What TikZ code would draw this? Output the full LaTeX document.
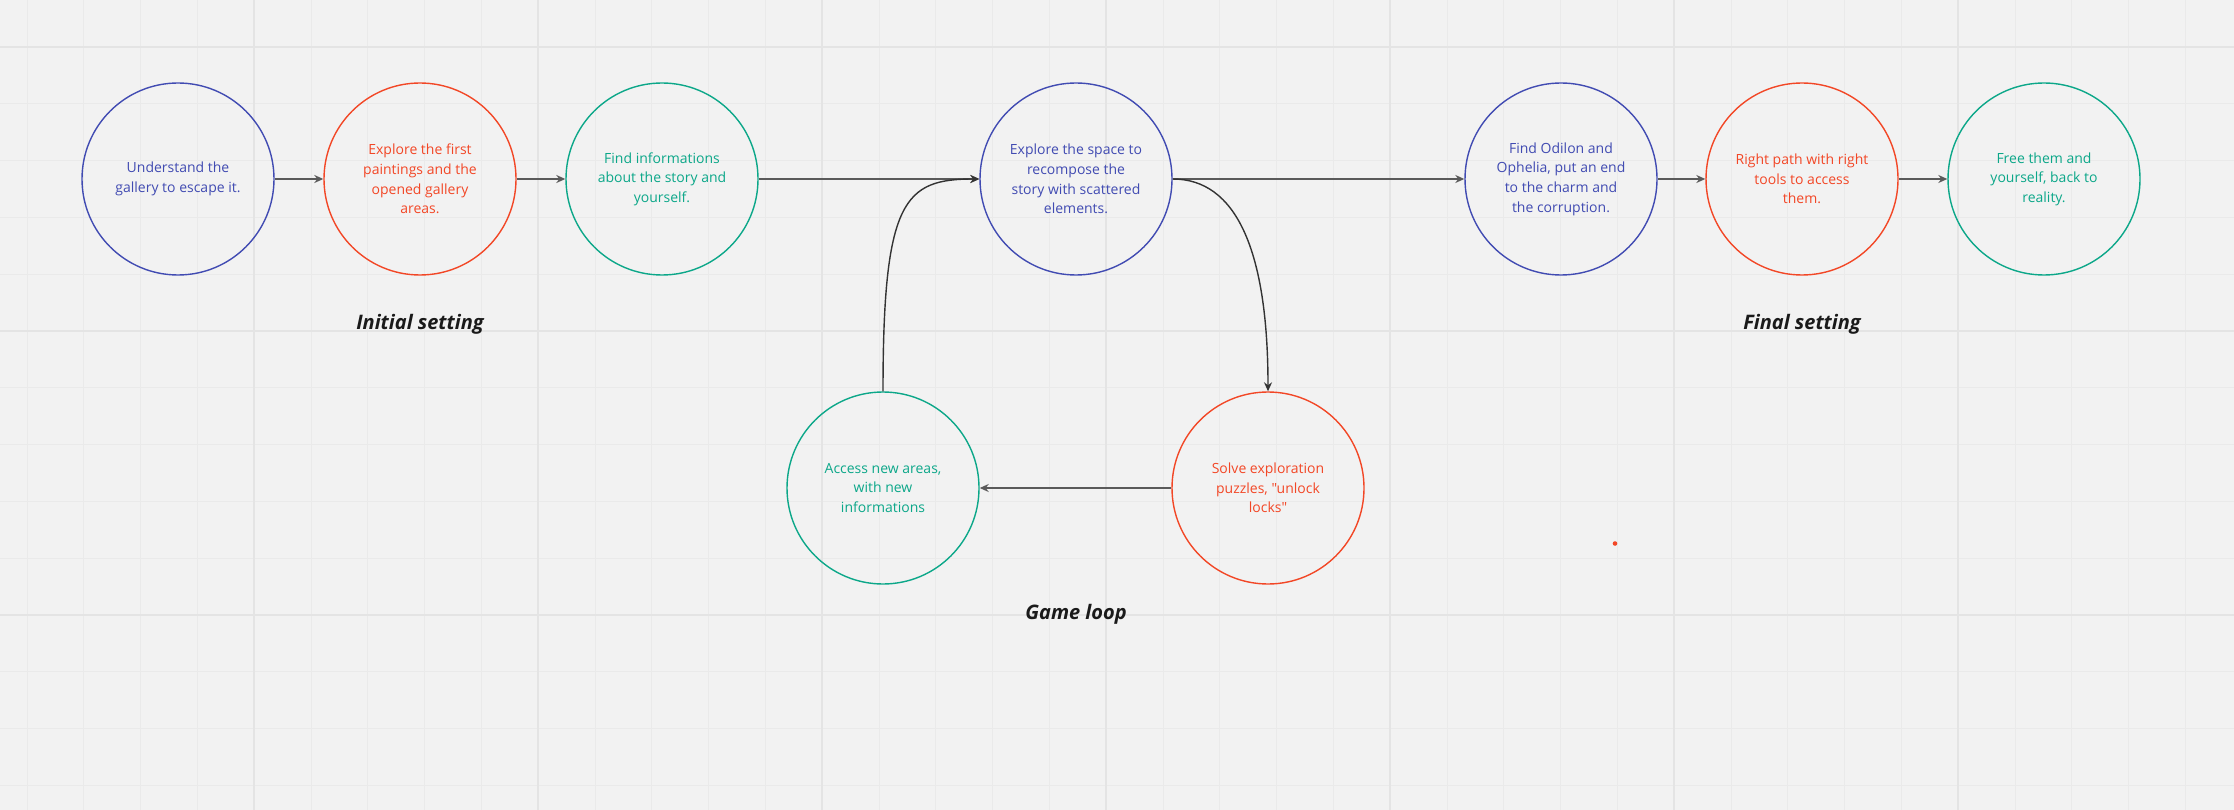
\documentclass[tikz,border=0pt]{standalone}
\usepackage{fontspec}
\setmainfont{Open Sans}[Ligatures=TeXOff]
\usetikzlibrary{arrows.meta}
\definecolor{mblue}{HTML}{414BB2}
\definecolor{mred}{HTML}{F24726}
\definecolor{mgreen}{HTML}{0CA789}
\definecolor{bgc}{HTML}{F2F2F2}
\definecolor{gridminor}{HTML}{EAEAEA}
\definecolor{gridmajor}{HTML}{E4E4E4}
\definecolor{linec}{HTML}{5A5A5A}
\definecolor{curvec}{HTML}{333333}
\definecolor{labelc}{HTML}{1A1A1A}
\tikzset{
  stage/.style={circle, draw, line width=1.4pt, minimum size=192pt, inner sep=0pt,
    align=center, font=\fontsize{14}{19.6}\selectfont},
  bluestage/.style={stage, draw=mblue, text=mblue},
  redstage/.style={stage, draw=mred, text=mred},
  greenstage/.style={stage, draw=mgreen, text=mgreen},
  conn/.style={draw=linec, line width=1.8pt, -{Stealth[length=9pt,width=8pt]}},
  curveconn/.style={draw=curvec, line width=1.4pt, -{Stealth[length=9pt,width=8pt]}},
  phase/.style={anchor=base, text=labelc, font=\fontsize{20}{24}\selectfont\bfseries\itshape},
  gminor/.style={draw=gridminor, line width=1pt},
  gmajor/.style={draw=gridmajor, line width=1.3pt}
}
\begin{document}
\begin{tikzpicture}[x=1pt, y=-1pt]
\fill[bgc] (0,0) rectangle (2234,810);
\useasboundingbox (0,0) rectangle (2234,810);
% grid
\foreach \i in {0,...,39} {
  \pgfmathsetmacro\gx{27+56.8*\i}
  \draw[gminor] (\gx,0) -- (\gx,810);
}
\foreach \k in {0,...,13} {
  \pgfmathsetmacro\gy{47+56.8*\k}
  \draw[gminor] (0,\gy) -- (2234,\gy);
}
\foreach \i in {0,...,7} {
  \pgfmathsetmacro\gx{254+284*\i}
  \draw[gmajor] (\gx,0) -- (\gx,810);
}
\foreach \k in {0,1,2} {
  \pgfmathsetmacro\gy{47+284*\k}
  \draw[gmajor] (0,\gy) -- (2234,\gy);
}
% stages
\node[bluestage]  (c1) at (178,179)  {Understand the\\gallery to escape it.};
\node[redstage]   (c2) at (420,179)  {Explore the first\\paintings and the\\opened gallery\\areas.};
\node[greenstage] (c3) at (662,179)  {Find informations\\about the story and\\yourself.};
\node[bluestage]  (c4) at (1076,179) {Explore the space to\\recompose the\\story with scattered\\elements.};
\node[bluestage]  (c5) at (1561,179) {Find Odilon and\\Ophelia, put an end\\to the charm and\\the corruption.};
\node[redstage]   (c6) at (1802,179) {Right path with right\\tools to access\\them.};
\node[greenstage] (c7) at (2044,179) {Free them and\\yourself, back to\\reality.};
\node[greenstage] (c8) at (883,488)  {Access new areas,\\with new\\informations};
\node[redstage]   (c9) at (1268,488) {Solve exploration\\puzzles, "unlock\\locks"};
% labels
\node[phase] (l1) at (420,329)  {Initial setting};
\node[phase] (l2) at (1076,619) {Game loop};
\node[phase] (l3) at (1802,329) {Final setting};
% connectors
\draw[conn] (c1) -- (c2);
\draw[conn] (c2) -- (c3);
\draw[conn] (c3) -- (c4);
\draw[conn] (c4) -- (c5);
\draw[conn] (c5) -- (c6);
\draw[conn] (c6) -- (c7);
\draw[conn] (c9) -- (c8);
\draw[curveconn] (c4.east) .. controls +(63,0) and +(0,-142) .. (c9.north);
\draw[curveconn] (c8.north) .. controls +(0,-192) and +(-75,0) .. (c4.west);
% stray dot
\coordinate (dot) at (1615,543.5);
\fill[mred] (dot) circle (2.3pt);
\end{tikzpicture}
\end{document}
